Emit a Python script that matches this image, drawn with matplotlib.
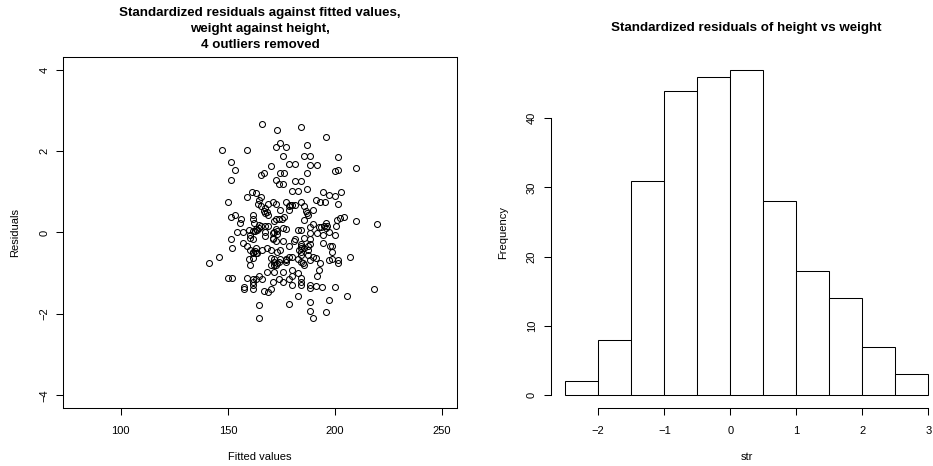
import matplotlib
matplotlib.use('Agg')
import matplotlib.pyplot as plt
import numpy as np

plt.rcParams['font.family'] = ['Liberation Sans', 'DejaVu Sans']

# residuals vs fitted values
fitted = [
    165.9, 184.3, 172.9, 195.6, 174.5, 187.1, 172.7, 177.1, 147.4, 158.7,
    175.7, 185.5, 188.5, 201.4, 151.6, 178.7, 181.5, 188.5, 191.4, 170.1,
    210.0, 153.1, 201.4, 199.8, 167.1, 174.5, 176.2, 186.9, 165.7, 172.7,
    151.6, 181.2, 184.3, 174.1, 175.9, 187.1, 180.1, 182.7, 161.4, 194.2,
    202.6, 163.1, 197.0, 158.7, 165.7, 199.8, 191.3, 164.3, 184.3, 192.8,
    195.5, 150.2, 171.3, 177.1, 164.2, 168.8, 172.7, 201.2, 179.0, 180.1,
    181.5, 178.5, 165.7, 185.7, 167.4, 174.3, 178.5, 189.9, 167.0, 168.2,
    186.4, 167.4, 186.9, 153.3, 168.7, 187.2, 161.5, 204.2, 202.5, 151.6,
    176.2, 172.7, 175.5, 174.1, 156.2, 161.5, 200.9, 185.4, 210.0, 171.6,
    155.8, 162.0, 189.9, 195.8, 219.8, 164.5, 194.9, 196.1, 200.6, 165.6,
    167.4, 168.9, 188.5, 192.5, 193.6, 195.8, 175.7, 164.5, 172.7, 177.3,
    162.9, 182.6, 184.3, 159.8, 163.6, 162.5, 161.5, 173.0, 154.4, 157.2,
    167.4, 171.7, 197.0, 171.3, 172.9, 191.4, 188.5, 200.0, 194.2, 160.1,
    167.4, 171.3, 160.1, 185.7, 151.6, 161.5, 188.5, 171.3, 181.3, 175.7,
    180.9, 172.7, 194.2, 157.0, 188.5, 184.0, 178.5, 158.9, 184.3, 187.2,
    198.4, 197.8, 151.7, 162.9, 168.5, 184.3, 185.7, 170.1, 174.3, 160.3,
    165.9, 162.8, 183.0, 187.5, 161.5, 162.9, 172.9, 198.4, 184.3, 161.5,
    163.6, 184.3, 187.2, 146.0, 179.8, 178.5, 206.9, 189.9, 191.3, 170.1,
    161.5, 160.0, 171.5, 174.5, 177.1, 182.7, 198.4, 197.2, 201.4, 177.1,
    188.5, 171.5, 174.1, 184.1, 177.3, 141.4, 172.9, 185.2, 192.8, 201.4,
    160.1, 170.1, 171.5, 185.7, 172.7, 192.7, 180.1, 168.5, 171.5, 175.7,
    182.7, 179.9, 191.4, 164.5, 150.2, 151.7, 158.7, 184.3, 161.5, 165.9,
    174.1, 178.5, 163.1, 171.3, 175.7, 184.3, 161.5, 179.9, 184.3, 188.5,
    191.3, 161.5, 157.3, 194.1, 200.0, 188.5, 157.3, 218.4, 170.1, 161.5,
    167.1, 168.7, 182.7, 205.6, 197.0, 188.5, 178.5, 164.5, 188.5, 195.6,
    164.5, 189.9,
]
residuals = [
    2.67, 2.59, 2.52, 2.35, 2.21, 2.14, 2.10, 2.09, 2.03, 2.02,
    1.88, 1.88, 1.89, 1.85, 1.74, 1.68, 1.69, 1.66, 1.66, 1.63,
    1.58, 1.54, 1.53, 1.50, 1.47, 1.47, 1.46, 1.45, 1.41, 1.29,
    1.30, 1.26, 1.26, 1.20, 1.20, 1.06, 1.02, 1.02, 1.00, 0.99,
    1.00, 0.96, 0.92, 0.88, 0.88, 0.89, 0.79, 0.80, 0.75, 0.75,
    0.75, 0.74, 0.74, 0.74, 0.69, 0.69, 0.69, 0.69, 0.68, 0.68,
    0.67, 0.66, 0.65, 0.65, 0.61, 0.55, 0.55, 0.55, 0.53, 0.51,
    0.53, 0.48, 0.48, 0.44, 0.44, 0.44, 0.42, 0.39, 0.35, 0.38,
    0.38, 0.34, 0.33, 0.33, 0.32, 0.32, 0.30, 0.31, 0.28, 0.28,
    0.24, 0.24, 0.22, 0.23, 0.22, 0.18, 0.17, 0.17, 0.17, 0.16,
    0.16, 0.15, 0.14, 0.13, 0.13, 0.11, 0.11, 0.10, 0.08, 0.08,
    0.08, 0.06, 0.05, 0.06, 0.06, 0.03, 0.03, 0.03, 0.00, 0.00,
    0.00, 0.00, 0.00, -0.02, -0.03, -0.02, -0.02, -0.06, -0.07, -0.06,
    -0.08, -0.13, -0.13, -0.14, -0.17, -0.17, -0.17, -0.17, -0.17, -0.21,
    -0.21, -0.21, -0.25, -0.25, -0.29, -0.29, -0.33, -0.34, -0.33, -0.33,
    -0.33, -0.34, -0.39, -0.39, -0.39, -0.39, -0.38, -0.43, -0.43, -0.43,
    -0.43, -0.45, -0.44, -0.42, -0.47, -0.50, -0.47, -0.48, -0.48, -0.51,
    -0.51, -0.56, -0.56, -0.60, -0.60, -0.60, -0.60, -0.60, -0.62, -0.62,
    -0.62, -0.64, -0.64, -0.64, -0.64, -0.64, -0.64, -0.68, -0.68, -0.68,
    -0.68, -0.72, -0.72, -0.72, -0.72, -0.76, -0.76, -0.76, -0.76, -0.76,
    -0.81, -0.81, -0.81, -0.81, -0.81, -0.91, -0.91, -0.98, -0.98, -0.98,
    -1.00, -1.07, -1.07, -1.07, -1.11, -1.11, -1.11, -1.11, -1.15, -1.15,
    -1.14, -1.15, -1.14, -1.21, -1.21, -1.21, -1.21, -1.30, -1.30, -1.30,
    -1.31, -1.30, -1.35, -1.35, -1.35, -1.36, -1.40, -1.40, -1.40, -1.38,
    -1.44, -1.45, -1.55, -1.55, -1.66, -1.70, -1.76, -1.78, -1.94, -1.95,
    -2.09, -2.11,
]

# histogram of standardized residuals
breaks = [-2.5, -2.0, -1.5, -1.0, -0.5, 0.0, 0.5, 1.0, 1.5, 2.0, 2.5, 3.0]
counts = [2, 8, 31, 44, 46, 47, 28, 18, 14, 7, 3]

W, H = 933, 466
fig = plt.figure(figsize=(W / 100, H / 100), dpi=100)

# pixel box of the plot regions
top, bot = 56.7, 408.3
ax1 = fig.add_axes([63.3 / W, 1 - bot / H, (456.7 - 63.3) / W, (bot - top) / H])
ax2 = fig.add_axes([550.7 / W, 1 - bot / H, (943 - 550.7) / W, (bot - top) / H])

fs = 8
lw = 0.75

# left: scatter
ax1.plot(fitted, residuals, 'o', mfc='none', mec='black', ms=4.3, mew=0.75)
ax1.set_xlim(73.2, 256.8)
ax1.set_ylim(-4.32, 4.32)
ax1.set_xticks([100, 150, 200, 250])
ax1.set_yticks([-4, -2, 0, 2, 4])
for s in ax1.spines.values():
    s.set_linewidth(lw)
ax1.set_xlabel('Fitted values', fontsize=fs)
ax1.set_ylabel('Residuals', fontsize=fs)
ax1.xaxis.set_label_coords(0.5, -48.4 / (bot - top))
ax1.xaxis.label.set_va('center')
ax1.yaxis.set_label_coords(-48.3 / (456.7 - 63.3), 0.5)
ax1.yaxis.label.set_va('center')

# right: histogram
widths = np.diff(breaks)
ax2.bar(breaks[:-1], counts, width=widths, align='edge',
        facecolor='white', edgecolor='black', linewidth=lw)
ax2.set_xlim(-2.72, 3.22)
ax2.set_ylim(-1.88, 48.88)
ax2.set_xticks([-2, -1, 0, 1, 2, 3])
ax2.set_yticks([0, 10, 20, 30, 40])
ax2.spines['top'].set_visible(False)
ax2.spines['right'].set_visible(False)
ax2.spines['left'].set_bounds(0, 40)
ax2.spines['bottom'].set_bounds(-2, 3)
ax2.spines['left'].set_linewidth(lw)
ax2.spines['bottom'].set_linewidth(lw)
ax2.set_xlabel('str', fontsize=fs)
ax2.set_ylabel('Frequency', fontsize=fs)
ax2.xaxis.set_label_coords(0.5, -48.4 / (bot - top))
ax2.xaxis.label.set_va('center')
ax2.yaxis.set_label_coords(-47.4 / (943 - 550.7), 0.5)
ax2.yaxis.label.set_va('center')

for ax in (ax1, ax2):
    ax.tick_params(direction='out', length=5, width=lw, labelsize=fs, pad=8)
    ax.tick_params(axis='y', labelrotation=90, pad=5)
    for lab in ax.get_yticklabels():
        lab.set_va('center')

fig.text(260 / W, 1 - 28.8 / H,
         'Standardized residuals against fitted values,\nweight against height,\n4 outliers removed',
         ha='center', va='center', fontsize=9.6, fontweight='bold', linespacing=1.42)
fig.text(746.7 / W, 1 - 28.3 / H, 'Standardized residuals of height vs weight',
         ha='center', va='center', fontsize=9.6, fontweight='bold')

fig.savefig('out.png', dpi=100)
